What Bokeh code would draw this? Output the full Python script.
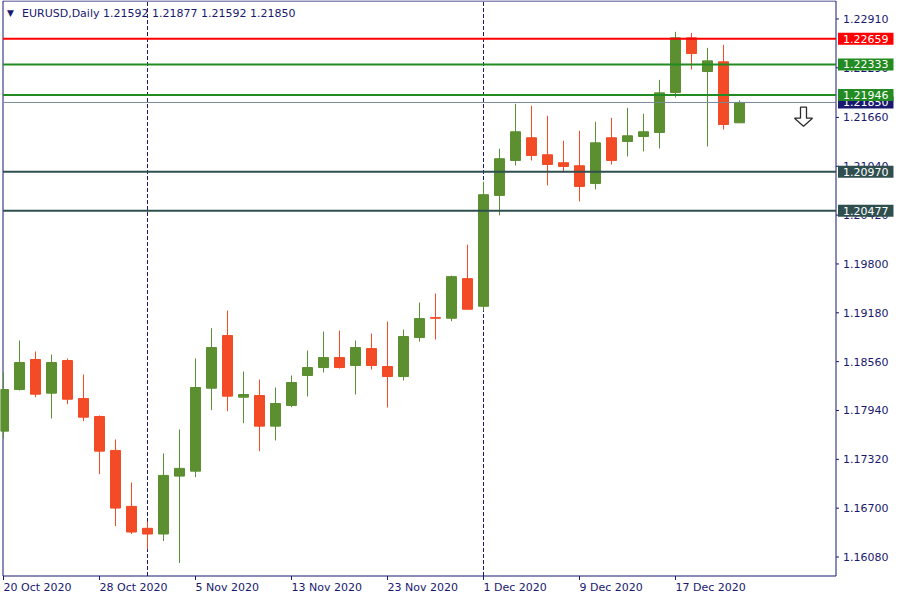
from bokeh.plotting import figure
from bokeh.models import Range1d, Label, ColumnDataSource, BoxAnnotation
from bokeh.embed import file_html
from bokeh.resources import INLINE

# ---------------- data ----------------
dates = ["20 Oct", "21 Oct", "22 Oct", "23 Oct", "26 Oct", "27 Oct", "28 Oct", "29 Oct", "30 Oct",
         "2 Nov", "3 Nov", "4 Nov", "5 Nov", "6 Nov", "9 Nov", "10 Nov", "11 Nov", "12 Nov", "13 Nov",
         "16 Nov", "17 Nov", "18 Nov", "19 Nov", "20 Nov", "23 Nov", "24 Nov", "25 Nov", "26 Nov",
         "27 Nov", "30 Nov", "1 Dec", "2 Dec", "3 Dec", "4 Dec", "7 Dec", "8 Dec", "9 Dec", "10 Dec",
         "11 Dec", "14 Dec", "15 Dec", "16 Dec", "17 Dec", "18 Dec", "21 Dec", "22 Dec", "23 Dec"]
opens = [1.17678, 1.18206, 1.18587, 1.18160, 1.18574, 1.18092, 1.17864, 1.17433, 1.16723,
         1.16444, 1.16372, 1.17107, 1.17170, 1.18223, 1.18891, 1.18109, 1.18130, 1.17741, 1.18004,
         1.18384, 1.18485, 1.18612, 1.18511, 1.18726, 1.18498, 1.18371, 1.18866, 1.19119,
         1.19111, 1.19614, 1.19263, 1.20670, 1.21114, 1.21402, 1.21186, 1.21085, 1.21047, 1.20822,
         1.21402, 1.21355, 1.21418, 1.21469, 1.21976, 1.22670, 1.22243, 1.22366, 1.21592]
highs = [1.18422, 1.18828, 1.18688, 1.18650, 1.18600, 1.18397, 1.17877, 1.17572, 1.17027,
         1.16533, 1.17395, 1.17699, 1.18600, 1.18984, 1.19208, 1.18435, 1.18333, 1.18232, 1.18384,
         1.18701, 1.18942, 1.18955, 1.18828, 1.18917, 1.19069, 1.18967, 1.19310, 1.19424,
         1.19652, 1.20045, 1.20844, 1.21262, 1.21833, 1.21808, 1.21681, 1.21364, 1.21491, 1.21605,
         1.21655, 1.21782, 1.21706, 1.22137, 1.22746, 1.22733, 1.22543, 1.22581, 1.21877]
lows = [1.17589, 1.18194, 1.18109, 1.17839, 1.18020, 1.17804, 1.17132, 1.16473, 1.16372,
        1.16178, 1.16283, 1.16004, 1.17094, 1.17944, 1.17931, 1.17779, 1.17424, 1.17560, 1.17982,
        1.18118, 1.18422, 1.18473, 1.18143, 1.18460, 1.17978, 1.18321, 1.18815, 1.18840,
        1.19073, 1.19225, 1.19208, 1.20417, 1.21051, 1.21114, 1.20797, 1.20962, 1.20594, 1.20746,
        1.21063, 1.21165, 1.21228, 1.21266, 1.21913, 1.22268, 1.21292, 1.21507, 1.21592]
closes = [1.18206, 1.18549, 1.18147, 1.18549, 1.18083, 1.17855, 1.17424, 1.16701, 1.16397,
          1.16372, 1.17116, 1.17205, 1.18232, 1.18739, 1.18122, 1.18143, 1.17741, 1.18029, 1.18295,
          1.18485, 1.18612, 1.18485, 1.18739, 1.18511, 1.18371, 1.18879, 1.19107, 1.19111,
          1.19639, 1.19225, 1.20679, 1.21136, 1.21478, 1.21177, 1.21063, 1.21038, 1.20784, 1.21338,
          1.21114, 1.21427, 1.21478, 1.21972, 1.22670, 1.22471, 1.22378, 1.21570, 1.21850]

date_tick_days = ["20 Oct", "28 Oct", "5 Nov", "13 Nov", "23 Nov", "1 Dec", "9 Dec", "17 Dec"]
date_tick_labels = ["20 Oct 2020", "28 Oct 2020", "5 Nov 2020", "13 Nov 2020", "23 Nov 2020",
                    "1 Dec 2020", "9 Dec 2020", "17 Dec 2020"]
separator_days = ["2 Nov", "1 Dec"]

price_ticks = [1.16080, 1.16700, 1.17320, 1.17940, 1.18560, 1.19180, 1.19800, 1.20420,
               1.21040, 1.21660, 1.22290, 1.22910]
price_tick_labels = ["1.16080", "1.16700", "1.17320", "1.17940", "1.18560", "1.19180", "1.19800",
                     "1.20420", "1.21040", "1.21660", "1.22290", "1.22910"]

level_prices = [1.22659, 1.22333, 1.21946, 1.20970, 1.20477]
bid_price = 1.21850
symbol_title = "EURUSD,Daily"
signal_day = 50          # sell-arrow position (bar index) and price
signal_price = 1.2167

# ---------------- styles / layout ----------------
NAVY = "#191970"
UP = "#5B8F30"
DOWN = "#F24B25"
level_colors = ["#FF0000", "#228B22", "#228B22", "#2F4F4F", "#2F4F4F"]
BID_COLOR = "#778899"
FONT = "DejaVu Sans"
FS = "11px"

CW, CH = 900, 600                 # canvas size
CHART_L, CHART_R = 2.5, 835.5     # chart area in canvas px
CHART_T, CHART_B = 0.5, 575.5
XL, XR = -0.03125, 52.03125       # chart area in bar-index units
YB, YT = 1.15839, 1.23138         # chart area in price units
ux = (XR - XL) / (CHART_R - CHART_L)
uy = (YT - YB) / (CHART_B - CHART_T)
x_start = XL - CHART_L * ux
x_end = x_start + CW * ux
y_end = YT + CHART_T * uy
y_start = y_end - CH * uy

idx = list(range(len(dates)))
colors = [UP if c >= o else DOWN for o, c in zip(opens, closes)]
src = ColumnDataSource(dict(
    x=idx, open=opens, high=highs, low=lows, close=closes,
    top=[max(o, c) for o, c in zip(opens, closes)],
    bottom=[min(o, c) for o, c in zip(opens, closes)],
    color=colors,
))

p = figure(width=CW, height=CH, output_backend="svg", toolbar_location=None,
           x_range=Range1d(x_start, x_end), y_range=Range1d(y_start, y_end),
           x_axis_location=None, y_axis_location=None, min_border=0)
p.grid.visible = False
p.background_fill_color = "white"
p.border_fill_color = "white"
p.outline_line_color = None

# chart frame
p.add_layout(BoxAnnotation(left=XL, right=XR, bottom=YB, top=YT, fill_alpha=0,
                           line_color=NAVY, line_alpha=1, line_width=1, level="underlay"))

# period separators
sep_src = ColumnDataSource(dict(x=[dates.index(d) for d in separator_days]))
p.segment(x0="x", y0=YB, x1="x", y1=YT, source=sep_src, line_color=NAVY, line_width=1,
          line_dash="4 2", level="underlay")

# candles
p.segment(x0="x", y0="low", x1="x", y1="high", source=src, line_color="color", line_width=1)
p.vbar(x="x", width=10 * ux, top="top", bottom="bottom", source=src,
       fill_color="color", line_color="color", line_width=1)

# bid line and levels
p.segment(x0=XL, x1=XR, y0="y", y1="y", source=ColumnDataSource(dict(y=[bid_price])),
          line_color=BID_COLOR, line_width=1)
lvl_src = ColumnDataSource(dict(y=level_prices, color=level_colors))
p.segment(x0=XL, x1=XR, y0="y", y1="y", source=lvl_src, line_color="color", line_width=2)

# right price scale
tick_src = ColumnDataSource(dict(t=price_ticks))
p.segment(x0=XR, x1=XR + 3 * ux, y0="t", y1="t", source=tick_src, line_color=NAVY, line_width=1)
for t, s in zip(price_ticks, price_tick_labels):
    p.add_layout(Label(x=XR, y=t, x_offset=7, text=s, text_color=NAVY, text_font=FONT,
                       text_font_size=FS, text_baseline="middle", text_align="left"))

# bottom time scale
tick_idx = [dates.index(d) for d in date_tick_days]
p.segment(x0="k", x1="k", y0=YB, y1=YB - 4 * uy, source=ColumnDataSource(dict(k=tick_idx)),
          line_color=NAVY, line_width=1)
for t, s in zip(tick_idx, date_tick_labels):
    p.add_layout(Label(x=t, y=YB, y_offset=-5, text=s, text_align="left", text_baseline="top",
                       text_color=NAVY, text_font=FONT, text_font_size=FS))

# price labels on the scale
BOX_PAD = dict(x=5, y=2)
p.add_layout(Label(x=XR, y=bid_price, x_offset=2, text=f"{bid_price:.5f}", text_color="white",
                   text_font=FONT, text_font_size=FS, text_baseline="middle", text_align="left",
                   background_fill_color=NAVY, padding=BOX_PAD))
for lv, col in sorted(zip(level_prices, level_colors), key=lambda a: a[0]):
    p.add_layout(Label(x=XR, y=lv, x_offset=2, text=f"{lv:.5f}", text_color="white",
                       text_font=FONT, text_font_size=FS, text_baseline="middle", text_align="left",
                       background_fill_color=col, padding=BOX_PAD))

# title
o, h, l, c = opens[-1], highs[-1], lows[-1], closes[-1]
p.add_layout(Label(x=XL, y=YT, x_offset=4, y_offset=-7, text="\u25BC", text_color=NAVY,
                   text_font=FONT, text_font_size="9px", text_baseline="top"))
p.add_layout(Label(x=XL, y=YT, x_offset=19, y_offset=-6,
                   text=f"{symbol_title}  {o:.5f} {h:.5f} {l:.5f} {c:.5f}",
                   text_color=NAVY, text_font=FONT, text_font_size=FS, text_baseline="top"))

# sell arrow (outlined down arrow, shape given in pixels around its anchor)
arrow_px = [(-3, -9.5), (3, -9.5), (3, 1.5), (9, 1.5), (0, 9.5), (-9, 1.5), (-3, 1.5)]
p.patch([signal_day + dx * ux for dx, dy in arrow_px],
        [signal_price - dy * uy for dx, dy in arrow_px],
        fill_color="white", line_color="#2b2b2b", line_width=1.3)

open("out.html", "w").write(file_html(p, INLINE))
